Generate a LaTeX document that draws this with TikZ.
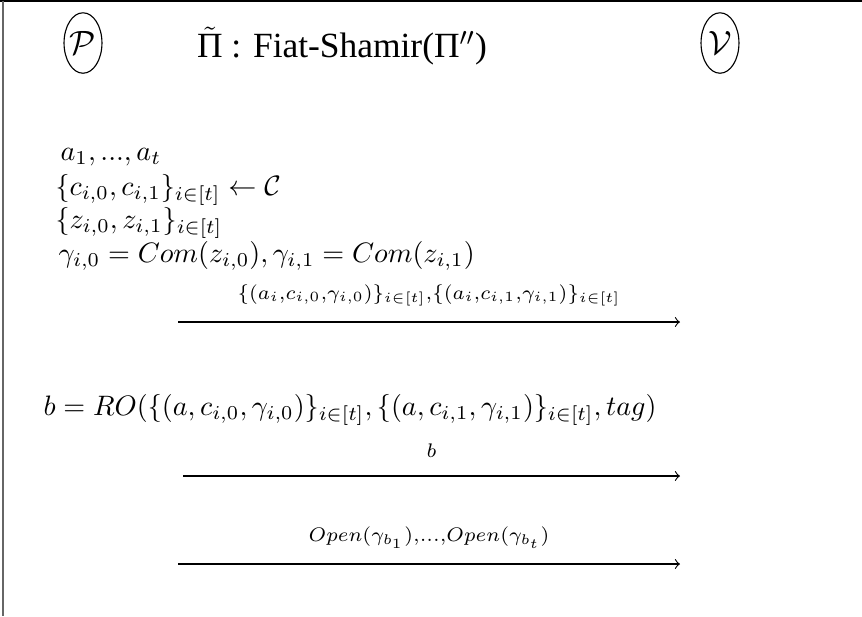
\documentclass[tikz,border=0pt]{standalone}
\usepackage{fontspec}
\setmainfont{Liberation Serif}
\usetikzlibrary{shapes.geometric}
\begin{document}
\begin{tikzpicture}[x=0.3558pt,y=-0.3558pt,
  party/.style={draw,ellipse,inner sep=0pt,minimum width=13.5pt,minimum height=21.5pt,font=\large},
  line/.style={anchor=base west,inner xsep=0pt},
  msg/.style={->}]
\useasboundingbox (0,0) rectangle (862,616);
\draw[line width=0.6pt] (0,1) -- (862,1);
\draw[line width=0.6pt,gray!80!black] (3,1) -- (3,616);
% parties and title
\node[party] (P) at (83,43) {$\mathcal{P}$};
\node[party] (V) at (720,43) {$\mathcal{V}$};
\node[font=\fontsize{12.6}{15}\selectfont] (title) at (342,46) {$\tilde{\hbox{Π}}$ : Fiat-Shamir(Π$''$)};
% prover computation
\node[line] (l1) at (60,160) {$a_1, ..., a_t$};
\node[line] (l2) at (55,195) {$\{c_{i,0}, c_{i,1}\}_{i\in[t]} \leftarrow \mathcal{C}$};
\node[line] (l3) at (55,228) {$\{z_{i,0}, z_{i,1}\}_{i\in[t]}$};
\node[line] (l4) at (58,262) {$\gamma_{i,0} = Com(z_{i,0}), \gamma_{i,1} = Com(z_{i,1})$};
\coordinate (s1) at (178,322);
\coordinate (e1) at (680,322);
\draw[msg] (s1) -- node[above=2pt] (m1) {$\scriptstyle\{(a_i,c_{i,0},\gamma_{i,0})\}_{i\in[t]},\{(a_i,c_{i,1},\gamma_{i,1})\}_{i\in[t]}$} (e1);
% challenge
\node[line] (l5) at (43,415) {$b = RO(\{(a, c_{i,0}, \gamma_{i,0})\}_{i\in[t]}, \{(a, c_{i,1}, \gamma_{i,1})\}_{i\in[t]}, tag)$};
\coordinate (s2) at (183,476);
\coordinate (e2) at (680,476);
\draw[msg] (s2) -- node[above=3pt] (m2) {$\scriptstyle b$} (e2);
% openings
\coordinate (s3) at (178,564);
\coordinate (e3) at (680,564);
\draw[msg] (s3) -- node[above=2pt] (m3) {$\scriptstyle Open(\gamma_{b_1}),...,Open(\gamma_{b_t})$} (e3);
\end{tikzpicture}
\end{document}
